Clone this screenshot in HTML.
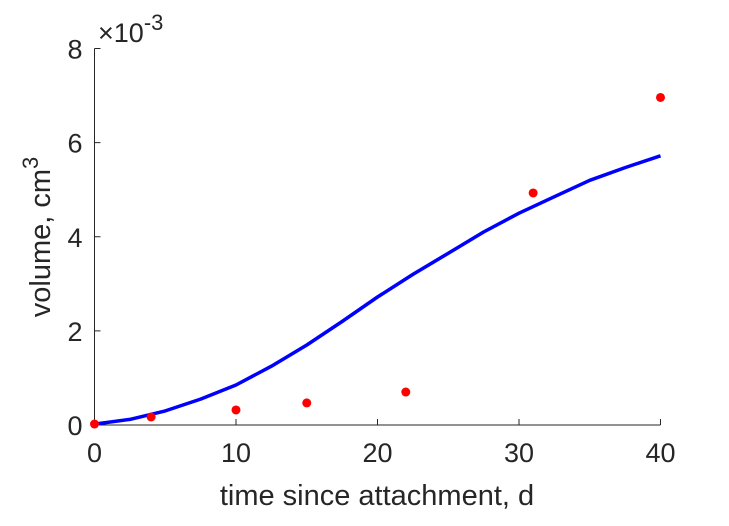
<!DOCTYPE html>
<html><head><meta charset="utf-8"><style>
html,body{margin:0;padding:0;background:#fff;}
svg text{font-family:"Liberation Sans",Arial,sans-serif;fill:#262626;}
</style></head><body>
<svg id="chart" width="729" height="521" viewBox="0 0 729 521" xmlns="http://www.w3.org/2000/svg">
<g id="axes"></g>
<g id="marks"></g>
</svg>
<script>
const xTicks=[0,10,20,30,40];
const yTicks=[0,2,4,6,8];
const fitX=[0,2.5,5,7.5,10,12.5,15,17.5,20,22.5,25,27.5,30,32.5,35,37.5,40];
const fitY=[0.02,0.12,0.3,0.55,0.85,1.25,1.7,2.2,2.72,3.2,3.65,4.1,4.5,4.85,5.2,5.47,5.72];
const dataX=[0,4,10,15,22,31,40];
const dataY=[0.02,0.17,0.32,0.47,0.7,4.93,6.96];
const L=94.5,R=660.5,T=48.5,B=425;
const sx=v=>L+(v-0)/(40-0)*(R-L);
const sy=v=>B-(v-0)/(8-0)*(B-T);
const NS="http://www.w3.org/2000/svg";
const axes=document.getElementById('axes'),marks=document.getElementById('marks');
function mk(tag,attrs,parent){const e=document.createElementNS(NS,tag);for(const k in attrs)e.setAttribute(k,attrs[k]);parent.appendChild(e);return e;}
let p=mk('path',{d:`M${L},${T}V${B}H${R}`,fill:'none',stroke:'#262626','stroke-width':1},axes);


xTicks.forEach(v=>{
 const t=mk('line',{x1:sx(v),x2:sx(v),y1:B,y2:B-6,stroke:'#262626'},axes);
 
 
 const l=mk('text',{x:sx(v),y:B+37,'text-anchor':'middle','font-size':27},axes);l.textContent=v;
 
 
});
yTicks.forEach(v=>{
 const t=mk('line',{x1:L,x2:L+6,y1:sy(v),y2:sy(v),stroke:'#262626'},axes);
 
 
 const l=mk('text',{x:L-12,y:sy(v)+10,'text-anchor':'end','font-size':27},axes);l.textContent=v;
 
 
});
let ex=mk('text',{x:98,y:42,'font-size':27},axes);
ex.innerHTML='×10<tspan dy="-12" font-size="22">-3</tspan>';


let xt=mk('text',{x:377,y:505,'text-anchor':'middle','font-size':29},axes);xt.textContent='time since attachment, d';


let yt=mk('text',{x:0,y:0,'text-anchor':'middle','font-size':29,transform:'translate(50,237) rotate(-90)'},axes);
yt.innerHTML='volume, cm<tspan dy="-12" font-size="22">3</tspan>';


let d=fitX.map((x,i)=>(i?'L':'M')+sx(x).toFixed(1)+','+sy(fitY[i]).toFixed(1)).join('');
let fl=mk('path',{d:d,fill:'none',stroke:'#0000ff','stroke-width':3.5,'stroke-linejoin':'round'},marks);


dataX.forEach((x,i)=>{
 const c=mk('circle',{cx:sx(x),cy:sy(dataY[i]),r:4.5,fill:'#ff0000'},marks);
 
 
});
</script>
</body></html>
